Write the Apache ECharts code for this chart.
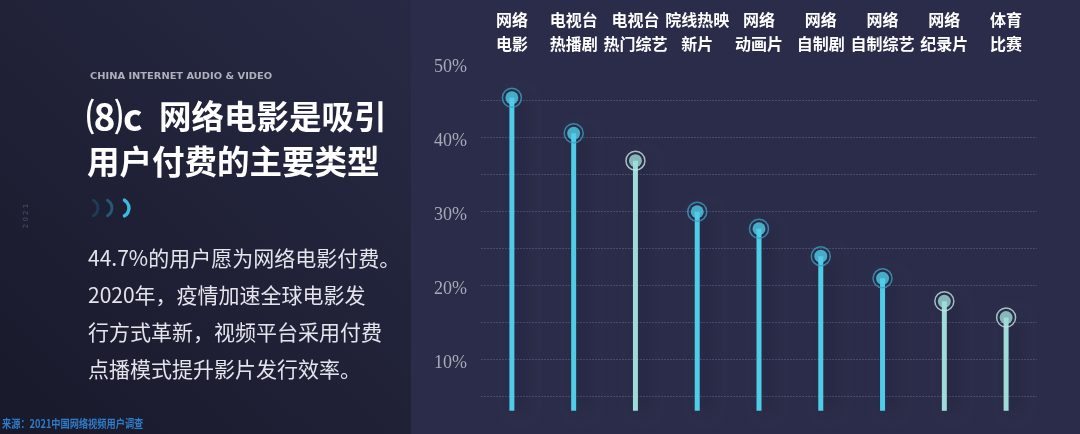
<!DOCTYPE html>
<html>
<head>
<meta charset="utf-8">
<script src="https://cdn.jsdelivr.net/npm/echarts@6/dist/echarts.min.js"></script>
<style>
html,body{margin:0;padding:0;background:#2a2c49;}
#chart{width:1080px;height:434px;}
</style>
</head>
<body>
<div id="chart"></div>
<script>
// ---- data ----
const categories = ['网络\n电影', '电视台\n热播剧', '电视台\n热门综艺', '院线热映\n新片', '网络\n动画片', '网络\n自制剧', '网络\n自制综艺', '网络\n纪录片', '体育\n比赛'];
const shares = [45.3, 40.5, 36.8, 29.9, 27.6, 23.9, 20.9, 17.8, 15.6];
const yTicks = [10, 20, 30, 40, 50];
const titlePrefix = '⑻c';
const titleLines = ['网络电影是吸引', '用户付费的主要类型'];
const bodyLines = ['44.7%的用户愿为网络电影付费。', '2020年，疫情加速全球电影发', '行方式革新，视频平台采用付费', '点播模式提升影片发行效率。'];
const kicker = 'CHINA INTERNET AUDIO & VIDEO';
const sourceText = '来源：2021中国网络视频用户调查';
const yearText = '2021';

// ---- styles ----
const STEM_BASE = 3;
const paleIdx = [2, 7, 8];
const CYAN = '#4fcde8', PALE = '#9fdbd8';
const CYAN_RING = '#3b9fc0', PALE_RING = '#c6e2e4';
const colorOf = i => paleIdx.includes(i) ? PALE : CYAN;
const ringOf = i => paleIdx.includes(i) ? PALE_RING : CYAN_RING;

const chart = echarts.init(document.getElementById('chart'));

const graphics = [
  { type: 'rect', z: -10, shape: { x: 0, y: 0, width: 411, height: 434 },
    style: { fill: new echarts.graphic.LinearGradient(0, 1, 1, 0, [
      { offset: 0, color: '#18192a' }, { offset: 1, color: '#282a45' }]) } },
  { type: 'text', x: 90, y: 77, scaleX: 1.12, style: { text: kicker, fill: '#aeb0bb', font: 'bold 8.8px "DejaVu Sans"', textVerticalAlign: 'middle' } },
  { type: 'text', x: 26, y: 216, rotation: Math.PI / 2, style: { text: yearText.split('').join(' '), fill: '#50536a', font: '7px "DejaVu Sans"', textAlign: 'center', textVerticalAlign: 'middle' } },
  { type: 'text', x: 2, y: 424, scaleX: 0.8, style: { text: sourceText, fill: '#2f7cc9', font: 'bold 11.5px "Noto Sans CJK SC"', textVerticalAlign: 'middle' } },
  { type: 'text', x: 86, y: 117, style: { text: titlePrefix, fill: '#ffffff', font: 'bold 37px "Noto Sans CJK SC"', textVerticalAlign: 'middle' } }
];
titleLines.forEach((t, i) => graphics.push({ type: 'text', x: i === 0 ? 159 : 87, y: 117 + i * 45,
  style: { text: t, fill: '#ffffff', font: 'bold 32.5px "Noto Sans CJK SC"', textVerticalAlign: 'middle' } }));
bodyLines.forEach((t, i) => graphics.push({ type: 'text', x: 88, y: 258 + i * 37,
  style: { text: t, fill: '#e4e4ec', font: '21px "Noto Sans CJK SC"', textVerticalAlign: 'middle' } }));
[['#1f3b55', 3, 96], ['#275872', 3, 110], ['#3bbbe0', 3.5, 127]].forEach(a => graphics.push({
  type: 'arc', shape: { cx: a[2] - 7, cy: 208, r: 9, startAngle: -Math.PI / 3, endAngle: Math.PI / 3 },
  style: { stroke: a[0], lineWidth: a[1], fill: null, lineCap: 'round' } }));

chart.setOption({
  backgroundColor: '#2a2c49',
  animation: false,
  graphic: graphics,
  grid: { left: 481, right: 43, top: 63, bottom: 1 },
  xAxis: {
    type: 'category', position: 'top', data: categories,
    axisLine: { show: false }, axisTick: { show: false },
    axisLabel: { interval: 0, color: '#ffffff', fontSize: 16, fontWeight: 'bold', lineHeight: 24, margin: 7, fontFamily: '"Noto Sans CJK SC"' }
  },
  yAxis: {
    type: 'value', min: 0, max: 50, interval: 5,
    axisLine: { show: false }, axisTick: { show: false },
    axisLabel: { color: '#a9aab8', fontSize: 18, fontFamily: '"Liberation Serif"', margin: 14, verticalAlign: 'top', lineHeight: 9,
      formatter: v => yTicks.includes(v) ? v + '%' : '' },
    splitLine: { show: true, showMaxLine: false, showMinLine: false, lineStyle: { color: '#484b6e', type: [2, 1], width: 1 } }
  },
  series: [
    { type: 'bar', stack: 's', barWidth: 5, silent: true, data: shares.map(() => STEM_BASE), itemStyle: { color: 'transparent' } },
    { type: 'bar', stack: 's', barWidth: 5, data: shares.map((v, i) => ({ value: +(v - STEM_BASE).toFixed(2), itemStyle: { color: colorOf(i) } })),
      itemStyle: { shadowColor: 'rgba(10,10,25,0.35)', shadowBlur: 16, shadowOffsetX: 8 } },
    { type: 'scatter', symbol: 'circle', symbolSize: 19, z: 5,
      data: shares.map((v, i) => ({ value: v, itemStyle: { color: 'transparent', borderColor: ringOf(i), borderWidth: 1.5 } })) },
    { type: 'scatter', symbol: 'circle', symbolSize: 13, z: 6,
      data: shares.map((v, i) => ({ value: v, itemStyle: { color: colorOf(i) } })) }
  ]
});
</script>
</body>
</html>
